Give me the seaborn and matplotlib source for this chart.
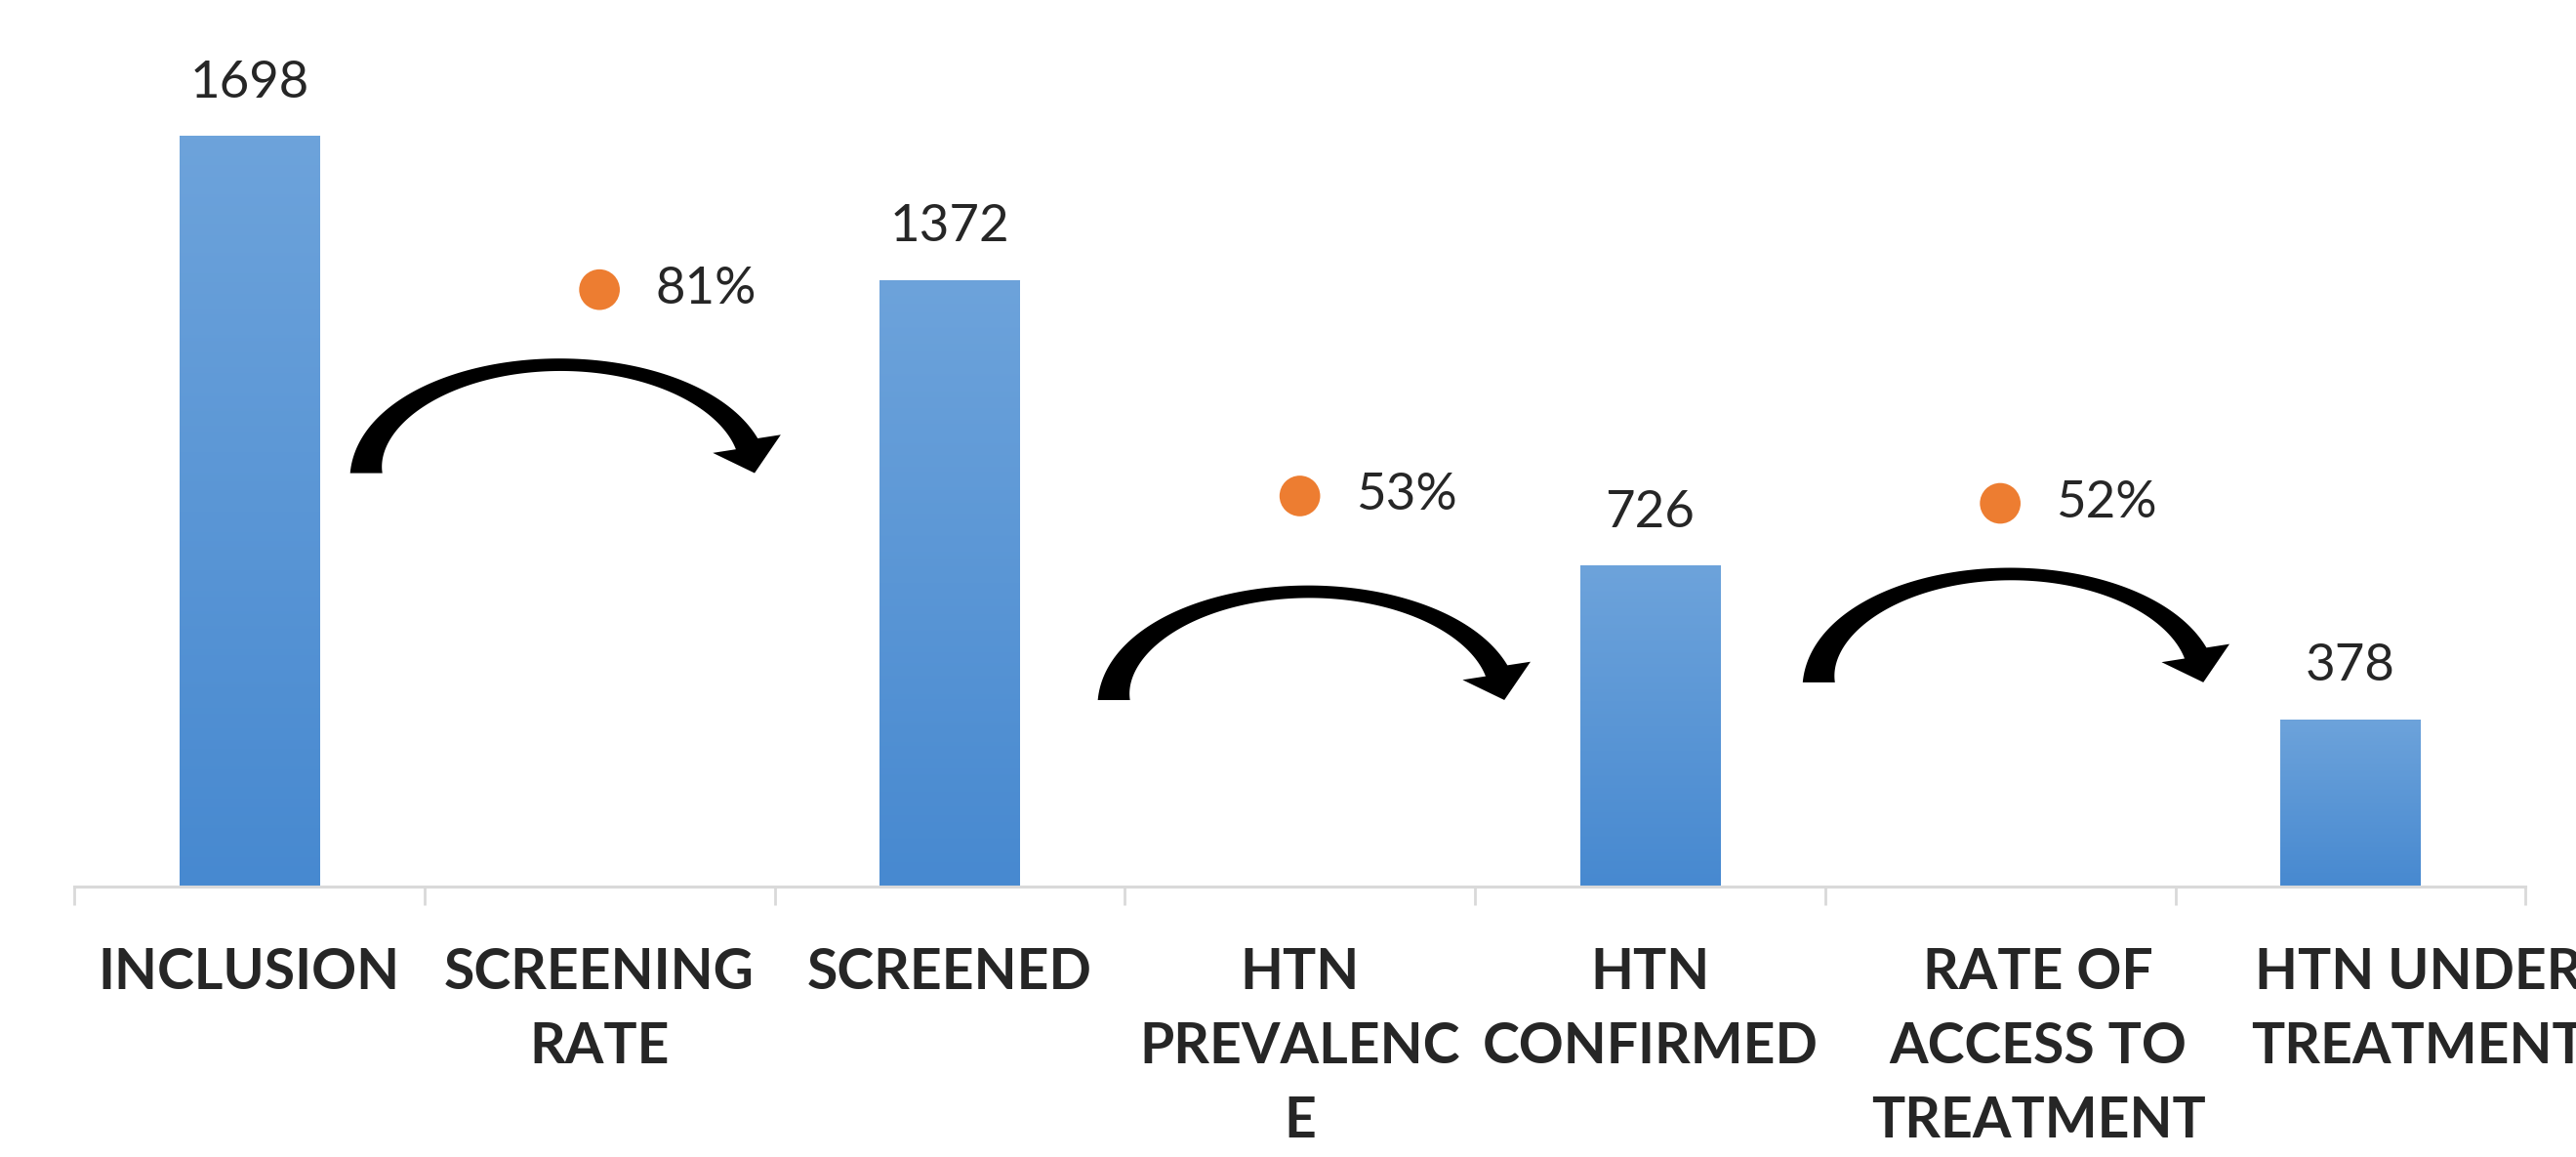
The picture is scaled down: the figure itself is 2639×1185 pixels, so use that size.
import numpy as np
import pandas as pd
import matplotlib
matplotlib.use("Agg")
import matplotlib.pyplot as plt
from matplotlib.patches import Polygon
from matplotlib.colors import LinearSegmentedColormap
from matplotlib.transforms import ScaledTranslation, IdentityTransform
import seaborn as sns

# ========== DATA ==========
STAGES = ["INCLUSION", "SCREENING RATE", "SCREENED", "HTN PREVALENCE",
          "HTN CONFIRMED", "RATE OF ACCESS TO TREATMENT", "HTN UNDER TREATMENT"]
TICK_LABELS = ["INCLUSION", "SCREENING\nRATE", "SCREENED", "HTN\nPREVALENC\nE",
               "HTN\nCONFIRMED", "RATE OF\nACCESS TO\nTREATMENT", "HTN UNDER\nTREATMENT"]
COUNT_STAGES = ["INCLUSION", "SCREENED", "HTN CONFIRMED", "HTN UNDER TREATMENT"]
COUNTS = [1698, 1372, 726, 378]
RATE_STAGES = ["SCREENING RATE", "HTN PREVALENCE", "RATE OF ACCESS TO TREATMENT"]
RATES = [0.81, 0.53, 0.52]

# ========== STYLE ==========
BAR_COLOR = "#5B9BD5"
BAR_TOP, BAR_BOTTOM = "#6DA3DB", "#4789D0"
DOT_COLOR = "#ED7D31"
AXIS_COLOR = "#D9D9D9"
LABEL_SHIFT_PT = {5: 28, 6: 50}  # last two category labels sit a bit right
# arrow placement around each rate dot: (leg offset, tip offset, drop below dot)
ARROW_GEOM = [(-0.666, 0.443, 0.249), (-0.531, 0.584, 0.277), (-0.518, 0.580, 0.243)]
ARROW_RISE_PX = 111


def curved_arrow(axis, x, r, geom):
    """Tapered Office-style curved arrow: half ellipse in pixels, anchored on data."""
    leg, tip_off, drop = geom
    to_px = axis.transData.transform
    p0 = to_px((x + leg, r - drop))
    tip = to_px((x + tip_off, r - drop))
    B = ARROW_RISE_PX
    th_end = np.arcsin(30.0 / B)
    A = (tip[0] - 8 - p0[0]) / (1 + np.cos(th_end))
    cx, cy = p0[0] + A, p0[1]

    th = np.linspace(np.pi, th_end, 120)
    pts = np.column_stack([cx + A * np.cos(th), cy + B * np.sin(th)])
    tan = np.column_stack([A * np.sin(th), -B * np.cos(th)])
    tan /= np.linalg.norm(tan, axis=1, keepdims=True)
    nrm = np.column_stack([-tan[:, 1], tan[:, 0]])
    t = ((np.pi - th) / (np.pi - th_end))[:, None]
    half = (33 - 72 * t + 64 * t ** 2) / 2
    left = pts + nrm * half
    right = pts - nrm * half

    hb = pts[-1]
    d = np.array([8.0, -30.0])
    d /= np.linalg.norm(d)
    n = np.array([-d[1], d[0]])
    head = [hb + n * 36, hb + d * 31, hb - n * 36]
    poly = np.vstack([left, head, right[::-1]])
    axis.add_patch(Polygon(poly, closed=True, fc="black", ec="none",
                           transform=IdentityTransform(), zorder=4))


sns.set_theme(style="white")
plt.rcParams["font.family"] = ["Lato", "DejaVu Sans"]

fig = plt.figure(figsize=(26.39, 11.85), dpi=100)
ax = fig.add_axes([0.0288, 0.2338, 0.9516, 0.6878])

counts_df = pd.DataFrame({"stage": COUNT_STAGES, "count": COUNTS})
sns.barplot(data=counts_df, x="stage", y="count", order=STAGES, width=0.4,
            color=BAR_COLOR, saturation=1, ax=ax)
ax.bar_label(ax.containers[0], padding=22, fontsize=38)

# soft vertical gradient inside each bar, like the original Excel fill
grad_cmap = LinearSegmentedColormap.from_list("bar", [BAR_BOTTOM, BAR_TOP])
grad = np.linspace(0, 1, 256).reshape(-1, 1)
for bar in ax.containers[0]:
    bx, by, bw, bh = bar.get_x(), bar.get_y(), bar.get_width(), bar.get_height()
    im = ax.imshow(grad, cmap=grad_cmap, origin="lower", aspect="auto",
                   extent=(bx, bx + bw, by, by + bh), zorder=bar.get_zorder() + 0.1)
    im.set_clip_path(bar)

ax.set_ylim(0, 1800)

# rates on a secondary scale
ax2 = ax.twinx()
rate_x = [STAGES.index(s) for s in RATE_STAGES]
sns.scatterplot(x=rate_x, y=RATES, ax=ax2, s=900, color=DOT_COLOR,
                edgecolor="none", zorder=3)
ax2.set_ylim(0, 1.08)
ax.set_xlim(-0.5, len(STAGES) - 0.5)

for x, r, geom in zip(rate_x, RATES, ARROW_GEOM):
    ax2.annotate(f"{r:.0%}", (x, r), xytext=(41, 0), textcoords="offset points",
                 va="center", ha="left", fontsize=38)
    curved_arrow(ax2, x, r, geom)

# axes cosmetics
ax.set_xticks(range(len(STAGES)))
ax.set_xticklabels(TICK_LABELS, fontsize=41, fontweight="bold", linespacing=1.53)
ax.set_xticks(np.arange(-0.5, len(STAGES)), minor=True)
ax.tick_params(axis="x", which="major", length=0, pad=45)
ax.tick_params(axis="x", which="minor", length=14, width=2, color=AXIS_COLOR, bottom=True)
for i, dx in LABEL_SHIFT_PT.items():
    lab = ax.get_xticklabels()[i]
    lab.set_transform(lab.get_transform() + ScaledTranslation(dx / 72, 0, fig.dpi_scale_trans))
ax.set_yticks([])
ax2.set_yticks([])
ax.set_xlabel("")
ax.set_ylabel("")
for s in ["top", "left", "right"]:
    ax.spines[s].set_visible(False)
for s in ax2.spines.values():
    s.set_visible(False)
ax.spines["bottom"].set_color(AXIS_COLOR)
ax.spines["bottom"].set_linewidth(2.2)

fig.savefig("out.png", dpi=100)
